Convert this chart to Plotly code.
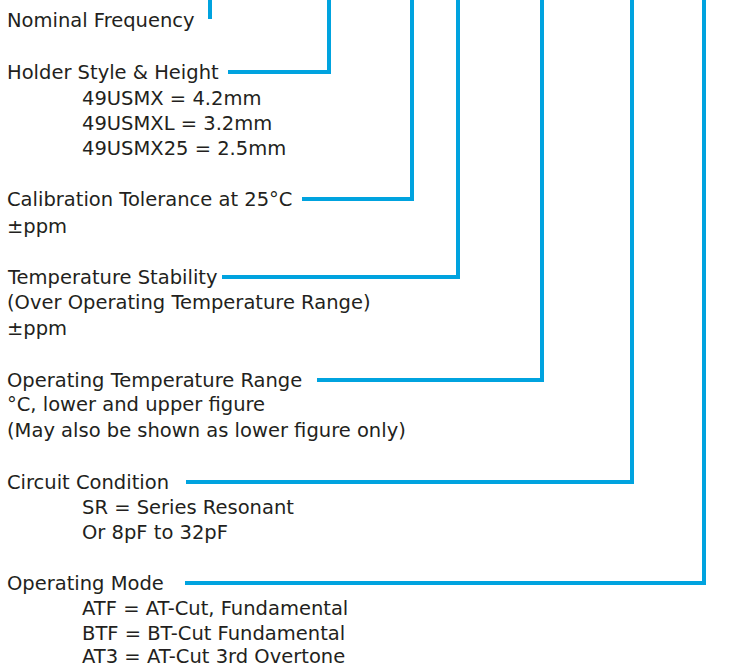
import plotly.graph_objects as go

W, H = 733, 668
FONT = "DejaVu Sans"
TEXT_COLOR = "#231f20"
LINE_COLOR = "#00a3df"

# Field headings (main label), vertical centre of the heading line (px from top)
headings = [
    "Nominal Frequency",
    "Holder Style & Height",
    "Calibration Tolerance at 25°C",
    "Temperature Stability",
    "Operating Temperature Range",
    "Circuit Condition",
    "Operating Mode",
]
heading_y = [20, 72, 199, 277, 380, 482, 583]

# Connector: x where horizontal leader starts, x of vertical riser
leader_start_x = [None, 228, 302, 222, 317, 186, 185]
riser_x = [210, 329, 412, 458, 542, 632, 704]

# Detail lines under each heading
detail_text = [
    "49USMX = 4.2mm", "49USMXL = 3.2mm", "49USMX25 = 2.5mm",
    "±ppm",
    "(Over Operating Temperature Range)", "±ppm",
    "°C, lower and upper figure", "(May also be shown as lower figure only)",
    "SR = Series Resonant", "Or 8pF to 32pF",
    "ATF = AT-Cut, Fundamental", "BTF = BT-Cut Fundamental", "AT3 = AT-Cut 3rd Overtone",
]
detail_y = [98, 123, 148, 226, 302, 328, 404, 430, 507, 532, 608, 633, 656]
detail_indent = [True, True, True, False, False, False, False, False,
                 True, True, True, True, True]

LEFT_X = 6
INDENT_X = 81
FONT_SIZE = 19.5

fig = go.Figure()

for i, (hy, rx) in enumerate(zip(heading_y, riser_x)):
    sx = leader_start_x[i]
    if sx is None:
        xs, ys = [rx, rx], [hy - 1, -10]
    else:
        xs, ys = [sx, rx, rx], [hy, hy, -10]
    fig.add_trace(go.Scatter(
        x=xs, y=ys, mode="lines",
        line=dict(color=LINE_COLOR, width=4),
        hoverinfo="skip", showlegend=False,
    ))

annotations = []
for txt, y in zip(headings, heading_y):
    annotations.append(dict(x=LEFT_X, y=y, text=txt, xref="x", yref="y",
                            xanchor="left", yanchor="middle", showarrow=False,
                            borderpad=0,
                            font=dict(family=FONT, size=FONT_SIZE, color=TEXT_COLOR)))
for txt, y, ind in zip(detail_text, detail_y, detail_indent):
    annotations.append(dict(x=INDENT_X if ind else LEFT_X, y=y, text=txt,
                            xref="x", yref="y", xanchor="left", yanchor="middle",
                            showarrow=False, borderpad=0,
                            font=dict(family=FONT, size=FONT_SIZE, color=TEXT_COLOR)))

fig.update_layout(
    width=W, height=H,
    margin=dict(l=0, r=0, t=0, b=0),
    paper_bgcolor="white", plot_bgcolor="white",
    xaxis=dict(range=[0, W], visible=False, fixedrange=True),
    yaxis=dict(range=[H, 0], visible=False, fixedrange=True),
    annotations=annotations,
    showlegend=False,
)

fig.write_html(
    "out.html",
    config={"displayModeBar": False},
    post_script="document.body.style.margin='0';document.body.style.overflow='hidden';",
)
